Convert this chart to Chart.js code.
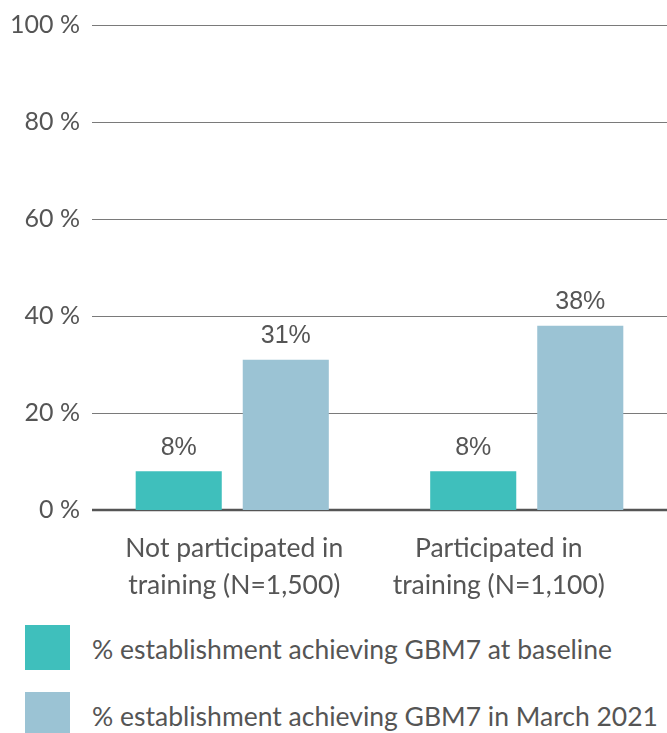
<!DOCTYPE html>
<html>
<head>
<meta charset="utf-8">
<title>GBM7 achievement by training participation</title>
<script src="https://cdn.jsdelivr.net/npm/chart.js@4"></script>
<style>
    html, body {
        margin: 0;
        padding: 0;
        background: #fff;
        overflow: hidden;
    }
    #wrap {
        position: relative;
        width: 667px;
        height: 733px;
        overflow: hidden;
    }
    #chart {
        position: absolute;
        left: 0;
        top: 0;
    }
    .legend {
        position: absolute;
        left: 25px;
        font-family: Lato, sans-serif;
        font-size: 26.5px;
        color: #555;
        white-space: nowrap;
    }
    .legend .box {
        display: inline-block;
        width: 45px;
        height: 45px;
        vertical-align: middle;
        margin-right: 22px;
    }
    .legend span {
        vertical-align: middle;
        position: relative;
        top: 1px;
    }
</style>
</head>
<body>
<div id="wrap">
    <canvas id="chart"></canvas>
    <div class="legend" style="top: 625px;"><div class="box" style="background:#3fbfbc"></div><span>% establishment achieving GBM7 at baseline</span></div>
    <div class="legend" style="top: 692px;"><div class="box" style="background:#9bc3d4"></div><span>% establishment achieving GBM7 in March 2021</span></div>
</div>

<script>
const groups = [
    ["Not participated in", "training (N=1,500)"],
    ["Participated in", "training (N=1,100)"]
];
const baseline = [8, 8];
const march2021 = [31, 38];
const yTicks = [0, 20, 40, 60, 80, 100];

// the second category caption sits a bit left of its bars
const captionShift = [2, -28];

// horizontal grid lines, starting a little right of the plot edge
const gridLines = {
    id: "gridLines",
    beforeDatasetsDraw(chart) {
        const ctx = chart.ctx;
        const y = chart.scales.y;
        const area = chart.chartArea;
        ctx.save();
        yTicks.forEach(v => {
            const py = Math.round(y.getPixelForValue(v));
            ctx.beginPath();
            ctx.strokeStyle = v === 0 ? "#555" : "#7a7a7a";
            ctx.lineWidth = v === 0 ? 2.5 : 1;
            const off = v === 0 ? 0 : 0.5;
            ctx.moveTo(area.left + 7, py + off);
            ctx.lineTo(area.right, py + off);
            ctx.stroke();
        });
        ctx.restore();
    }
};

// value labels above each bar, category captions under the axis
const barLabels = {
    id: "barLabels",
    afterDatasetsDraw(chart) {
        const ctx = chart.ctx;
        ctx.save();
        ctx.font = "25px 'Liberation Sans', Arial, sans-serif";
        ctx.fillStyle = "#555";
        ctx.textAlign = "center";
        ctx.textBaseline = "bottom";
        chart.data.datasets.forEach((ds, i) => {
            chart.getDatasetMeta(i).data.forEach((bar, j) => {
                ctx.fillText(ds.data[j] + "%", bar.x, bar.y - 11);
            });
        });

        const x = chart.scales.x;
        const bottom = chart.chartArea.bottom;
        ctx.font = "26.5px Lato, sans-serif";
        ctx.textBaseline = "middle";
        groups.forEach((lines, i) => {
            const cx = x.getPixelForTick(i) + captionShift[i];
            lines.forEach((line, k) => {
                ctx.fillText(line, cx, bottom + 38 + k * 37);
            });
        });
        ctx.restore();
    }
};

const canvas = document.getElementById("chart");
canvas.width = 674;
canvas.height = 610;
canvas.style.width = "674px";
canvas.style.height = "610px";

new Chart(canvas.getContext("2d"), {
    type: "bar",
    data: {
        labels: groups,
        datasets: [
            {
                label: "% establishment achieving GBM7 at baseline",
                data: baseline,
                backgroundColor: "#3fbfbc"
            },
            {
                label: "% establishment achieving GBM7 in March 2021",
                data: march2021,
                backgroundColor: "#9bc3d4"
            }
        ]
    },
    options: {
        responsive: false,
        animation: false,
        layout: { padding: { top: 25, left: 0, right: 0, bottom: 0 } },
        datasets: {
            bar: { categoryPercentage: 0.727, barPercentage: 0.804 }
        },
        scales: {
            x: {
                grid: { display: false, drawTicks: false },
                border: { display: false },
                ticks: { display: false },
                afterFit(scale) { scale.height = 100; }
            },
            y: {
                min: 0,
                max: 100,
                afterBuildTicks(scale) {
                    scale.ticks = yTicks.map(v => ({ value: v }));
                },
                afterFit(scale) { scale.width = 85; },
                border: { display: false },
                grid: { display: false, drawTicks: false },
                ticks: {
                    color: "#555",
                    padding: 5,
                    font: { family: "Lato", size: 25 },
                    callback: v => v + " %"
                }
            }
        },
        plugins: {
            legend: { display: false },
            tooltip: { enabled: false }
        }
    },
    plugins: [gridLines, barLabels]
});
</script>
</body>
</html>
